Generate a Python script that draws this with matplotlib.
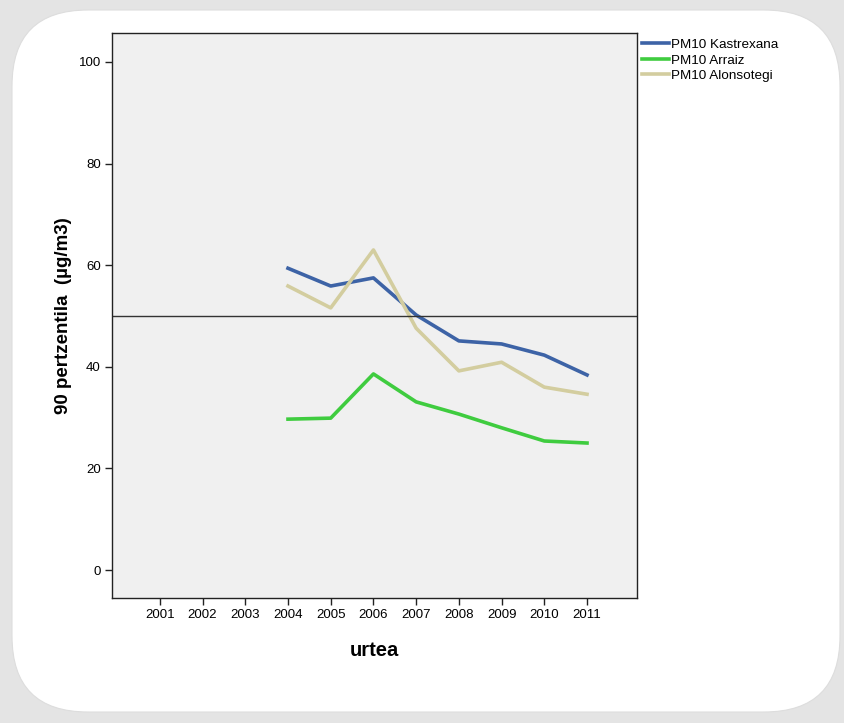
import matplotlib
matplotlib.use("Agg")
import matplotlib.pyplot as plt
from matplotlib.patches import FancyBboxPatch

plt.rcParams['font.family'] = ['Liberation Sans', 'DejaVu Sans']

# data
years = [2004, 2005, 2006, 2007, 2008, 2009, 2010, 2011]
tick_years = list(range(2001, 2012))
kastrexana = [59.4, 55.9, 57.5, 50.2, 45.1, 44.5, 42.3, 38.4]
arraiz = [29.7, 29.9, 38.6, 33.1, 30.7, 28.0, 25.4, 25.0]
alonsotegi = [55.9, 51.6, 63.0, 47.6, 39.2, 40.9, 36.0, 34.6]
limit_value = 50

fig = plt.figure(figsize=(8.45, 7.23), dpi=100)
fig.patch.set_facecolor('#e4e4e4')

# rounded white card behind the chart
card = FancyBboxPatch((12 / 845, 1 - 712 / 723), 828 / 845, 702 / 723,
                      boxstyle="round,pad=0,rounding_size=0.09",
                      transform=fig.transFigure, facecolor='white',
                      edgecolor='#dddddd', linewidth=0.8, zorder=-5,
                      mutation_aspect=845 / 723)
fig.patches.append(card)

ax = fig.add_axes([112 / 845, 1 - 598 / 723, 525 / 845, 565 / 723])
ax.set_zorder(2)
ax.set_facecolor('#f0f0f0')

ax.plot(years, kastrexana, color='#3d63a6', lw=2.6, label='PM10 Kastrexana')
ax.plot(years, arraiz, color='#3fcc3f', lw=2.6, label='PM10 Arraiz')
ax.plot(years, alonsotegi, color='#d3cd9f', lw=2.6, label='PM10 Alonsotegi')
ax.axhline(limit_value, color='#333333', lw=1.0)

ax.set_xlim(1999.88, 2012.17)
ax.set_ylim(-5.5, 105.7)
ax.set_xticks(tick_years)
ax.set_xticklabels([str(y) for y in tick_years])
ax.set_yticks([0, 20, 40, 60, 80, 100])
ax.tick_params(axis='both', direction='out', length=5, width=1, labelsize=9.5,
               color='#222222', pad=3)
for s in ax.spines.values():
    s.set_color('#222222')
    s.set_linewidth(1)

ax.set_xlabel('urtea', fontsize=14.5, fontweight='bold', labelpad=14)
ax.set_ylabel('90 pertzentila  (µg/m3)', fontsize=13.5, fontweight='bold', labelpad=5)

fig.legend(loc='upper left', bbox_to_anchor=(639 / 845, 1 - 36 / 723),
           frameon=False, fontsize=9.7, handlelength=2.0, handletextpad=0.2,
           labelspacing=0.22, borderaxespad=0, borderpad=0.2)

fig.savefig('out.png', dpi=100, facecolor=fig.get_facecolor())
